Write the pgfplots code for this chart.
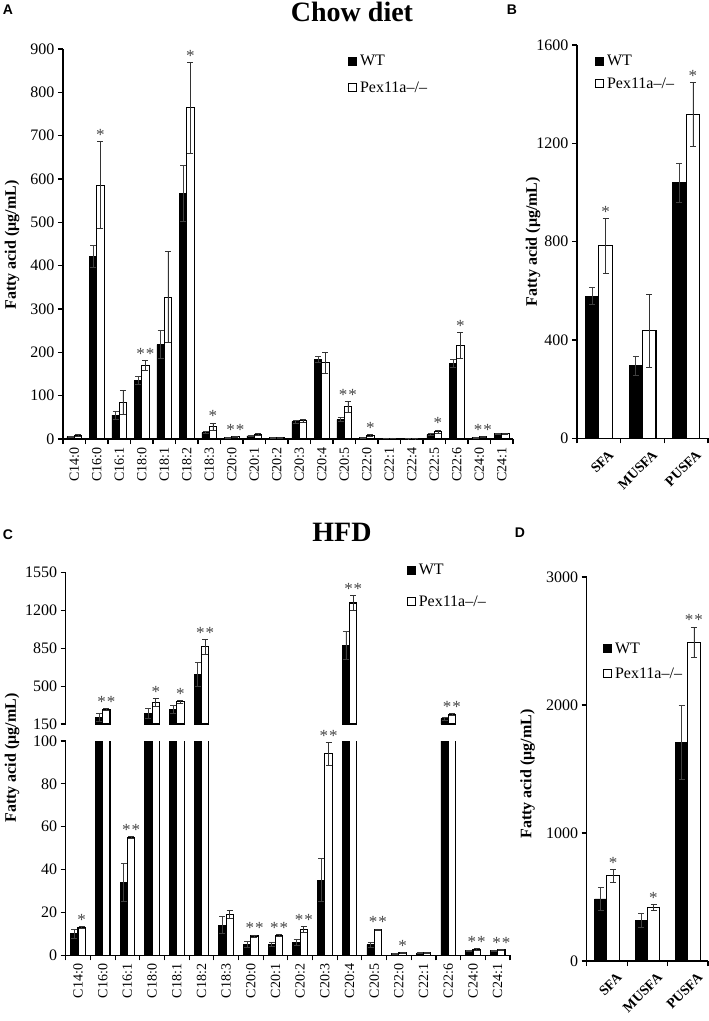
\documentclass[border=0pt]{standalone}
\usepackage{pgfplots}
\pgfplotsset{compat=1.18}
\usepackage{pgfplotstable}
\usepackage{fontspec}
\setmainfont{Liberation Serif}
\newfontfamily\panelfont{Liberation Sans}
\definecolor{stargray}{RGB}{70,70,70}
\newcommand{\fsz}[1]{\fontsize{#1}{#1}\selectfont}

% Panel A: chow diet, individual fatty acids
\pgfplotstableread{
x wt wte pex pexe
0 5 1 8 1.5
1 422 25 586 100
2 55 9 85 28
3 135 10 170 12
4 218 32 327 105
5 567 65 764 105
6 15 3 28 9
7 3 1 5 1
8 7 1 10 2
9 3 0.5 3 0.5
10 40 3 42 3
11 183 7 176 24
12 45 5 74 12
13 3 1 8 2
14 2 0.5 2 0.5
15 1 0.3 1 0.3
16 10 2 17 4
17 174 9 215 30
18 3 1 5 1
19 12 2 12 2
}\tabA
% Panel B: chow diet, classes
\pgfplotstableread{
x wt wte pex pexe
0 578 35 784 112
1 295 40 437 150
2 1040 80 1318 130
}\tabB
% Panel C: HFD, individual fatty acids
\pgfplotstableread{
x wt wte pex pexe
0 10 2 13 0.5
1 210 37 285 5
2 34 9 55 0.5
3 250 45 350 35
4 285 40 355 15
5 610 110 865 70
6 14 4 19 2
7 5 1.5 9 0.5
8 5 1 9.3 0.5
9 6 1.2 12 1.5
10 35 10 94 5.5
11 880 130 1270 70
12 5 1.2 12 0.3
13 0.8 0.2 1.1 0.2
14 1 0.2 1.2 0.2
15 200 15 240 10
16 2.2 0.3 2.8 0.3
17 2.2 0.3 2.6 0.3
}\tabC
% Panel D: HFD, classes
\pgfplotstableread{
x wt wte pex pexe
0 485 90 665 50
1 320 55 420 25
2 1710 290 2490 120
}\tabD

\tikzset{st/.style={font=\fsz{17}, text=stargray, anchor=base, yshift=1pt, inner sep=0pt}}

\pgfplotsset{
  /pgfplots/ybar legend/.style={/pgfplots/legend image code/.code={%
      \draw[##1,/tikz/.cd,line width=0.9pt] (0pt,-4pt) rectangle (8pt,4pt);}},
  fa/.style={
    scale only axis, anchor=south west,
    axis x line*=bottom, axis y line*=left,
    axis line style={line width=1.3pt, black},
    tick align=outside,
    major tick length=5pt, minor tick length=5pt,
    tick style={black, line width=1.1pt},
    major x tick style={draw=none},
    /pgf/number format/assume math mode=true,
    /pgf/number format/1000 sep={},
    yticklabel style={font=\fsz{16}},
    ybar=0pt,
    ymin=0,
    clip mode=individual,
    legend style={draw=none, fill=none, inner sep=0pt, anchor=west, font=\fsz{16},
      nodes={inner sep=0pt}, /tikz/every odd column/.style={column sep=3pt}},
    legend cell align=left,
    ylabel={Fatty acid (μg/mL)},
    ylabel style={font=\bfseries\fsz{16}, anchor=center},
  },
  catx/.style={xticklabel style={font=\fsz{14}, rotate=90, anchor=east}},
  grpx/.style={xtick={0,1,2}, xticklabels={SFA,MUSFA,PUSFA}, minor xtick={-0.5,0.5,1.5,2.5},
    xmin=-0.5, xmax=2.5,
    xticklabel style={font=\bfseries\fsz{14}, xshift=9pt, yshift=-1pt, rotate=45, anchor=north east}},
  wtbar/.style={fill=black, draw=black, line width=0.8pt,
    error bars/.cd, y dir=both, y explicit,
    error bar style={line width=0.8pt, black!75},
    error mark options={rotate=90, mark size=3pt, line width=0.8pt, black!75}},
  pexbar/.style={fill=white, draw=black, line width=1.1pt,
    error bars/.cd, y dir=both, y explicit,
    error bar style={line width=0.8pt, black!80},
    error mark options={rotate=90, mark size=3pt, line width=0.8pt, black!80}},
}

\begin{document}
\begin{tikzpicture}
\useasboundingbox (0pt,0pt) rectangle (709pt,-1021pt);

% ---------- Panel A ----------
\begin{axis}[fa, catx, at={(63pt,-439pt)}, width=450pt, height=390pt,
  xmin=-0.5, xmax=19.5, ymax=900, ytick={0,100,...,900},
  bar width=7.3pt,
  xtick={0,...,19},
  xticklabels={C14:0,C16:0,C16:1,C18:0,C18:1,C18:2,C18:3,C20:0,C20:1,C20:2,C20:3,C20:4,C20:5,C22:0,C22:1,C22:4,C22:5,C22:6,C24:0,C24:1},
  minor xtick={-0.5,0.5,...,19.5},
  ylabel style={at={(axis description cs:-0.1133,0.497)}},
  legend style={at={(axis description cs:0.6333,0.9346)}, /tikz/row sep=14pt},
]
\addplot[wtbar] table[x=x, y=wt, y error=wte]{\tabA};
\addplot[pexbar] table[x=x, y=pex, y error=pexe]{\tabA};
\legend{WT, Pex11a--/--}
\node[st] at (axis cs:1.16,686) {*};
\node[st] at (axis cs:3.16,182) {*\hspace{1pt}*};
\node[st] at (axis cs:5.16,869) {*};
\node[st] at (axis cs:6.16,37) {*};
\node[st] at (axis cs:7.16,6) {*\hspace{1pt}*};
\node[st] at (axis cs:12.16,86) {*\hspace{1pt}*};
\node[st] at (axis cs:13.16,10) {*};
\node[st] at (axis cs:16.16,21) {*};
\node[st] at (axis cs:17.16,245) {*};
\node[st] at (axis cs:18.16,6) {*\hspace{1pt}*};
\end{axis}

% ---------- Panel B ----------
\begin{axis}[fa, grpx, at={(577pt,-438.3pt)}, width=131pt, height=393.3pt,
  ymax=1600, ytick={0,400,...,1600}, bar width=13.5pt,
  ylabel style={at={(axis description cs:-0.336,0.5)}},
  legend style={at={(axis description cs:0.137,0.930)}, /tikz/row sep=10pt},
]
\addplot[wtbar] table[x=x, y=wt, y error=wte]{\tabB};
\addplot[pexbar] table[x=x, y=pex, y error=pexe]{\tabB};
\legend{WT, Pex11a--/--}
\node[st] at (axis cs:0.154,896) {*};
\node[st] at (axis cs:2.154,1448) {*};
\end{axis}

% ---------- Panel C, upper part (150-1550) ----------
\begin{axis}[fa, at={(65.7pt,-724pt)}, width=444.3pt, height=151.3pt,
  axis x line=none, xmin=-0.5, xmax=17.5,
  ymax=1400, ytick={0,350,700,1050,1400}, yticklabels={150,500,850,1200,1550},
  bar width=7.3pt, clip=false,
  restrict y to domain=0:100000,
  ylabel={},
  legend style={at={(axis description cs:0.7675,0.912)}, /tikz/row sep=19pt},
]
\addplot[wtbar] table[x=x, y expr=\thisrow{wt}-150, y error=wte]{\tabC};
\addplot[pexbar] table[x=x, y expr=\thisrow{pex}-150, y error=pexe]{\tabC};
\legend{WT, Pex11a--/--}
\node[st] at (axis cs:1.15,140) {*\hspace{1pt}*};
\node[st] at (axis cs:3.15,235) {*};
\node[st] at (axis cs:4.15,220) {*};
\node[st] at (axis cs:5.15,785) {*\hspace{1pt}*};
\node[st] at (axis cs:11.15,1190) {*\hspace{1pt}*};
\node[st] at (axis cs:15.15,100) {*\hspace{1pt}*};
\end{axis}

% ---------- Panel C, lower part (0-100) ----------
\begin{axis}[fa, catx, at={(65.7pt,-955.3pt)}, width=444.3pt, height=214.3pt,
  xmin=-0.5, xmax=17.5, ymax=100, ytick={0,20,...,100},
  bar width=7.3pt,
  xtick={0,...,17},
  xticklabels={C14:0,C16:0,C16:1,C18:0,C18:1,C18:2,C18:3,C20:0,C20:1,C20:2,C20:3,C20:4,C20:5,C22:0,C22:1,C22:6,C24:0,C24:1},
  minor xtick={-0.5,0.5,...,17.5},
  ylabel style={at={(axis description cs:-0.1209,0.92)}},
]
\addplot[wtbar] table[x=x, y=wt, y error=wte]{\tabC};
\addplot[pexbar] table[x=x, y=pex, y error=pexe]{\tabC};
\node[st] at (axis cs:0.15,13.5) {*};
\node[st] at (axis cs:2.15,55.5) {*\hspace{1pt}*};
\node[st] at (axis cs:7.15,9.5) {*\hspace{1pt}*};
\node[st] at (axis cs:8.15,9.8) {*\hspace{1pt}*};
\node[st] at (axis cs:9.15,13.5) {*\hspace{1pt}*};
\node[st] at (axis cs:10.15,99.5) {*\hspace{1pt}*};
\node[st] at (axis cs:12.15,12.3) {*\hspace{1pt}*};
\node[st] at (axis cs:13.15,1.3) {*};
\node[st] at (axis cs:16.15,3.1) {*\hspace{1pt}*};
\node[st] at (axis cs:17.15,2.9) {*\hspace{1pt}*};
\end{axis}

% ---------- Panel D ----------
\begin{axis}[fa, grpx, at={(586.7pt,-961pt)}, width=121.3pt, height=384pt,
  ymax=3000, ytick={0,1000,2000,3000}, bar width=12.3pt,
  ylabel style={at={(axis description cs:-0.488,0.487)}},
  legend style={at={(axis description cs:0.134,0.781)}, /tikz/row sep=13pt},
]
\addplot[wtbar] table[x=x, y=wt, y error=wte]{\tabD};
\addplot[pexbar] table[x=x, y=pex, y error=pexe]{\tabD};
\legend{WT, Pex11a--/--}
\node[st] at (axis cs:0.152,715) {*};
\node[st] at (axis cs:1.152,445) {*};
\node[st] at (axis cs:2.152,2610) {*\hspace{1pt}*};
\end{axis}

% titles and panel letters
\node[font=\bfseries\fsz{28}] at (352pt,-12pt) {Chow diet};
\node[font=\bfseries\fsz{28}] at (342pt,-532pt) {HFD};
\node[font=\panelfont\bfseries\fsz{14}] at (8pt,-10pt) {A};
\node[font=\panelfont\bfseries\fsz{14}] at (512pt,-10pt) {B};
\node[font=\panelfont\bfseries\fsz{14}] at (8pt,-535pt) {C};
\node[font=\panelfont\bfseries\fsz{14}] at (520pt,-533pt) {D};
\end{tikzpicture}
\end{document}
